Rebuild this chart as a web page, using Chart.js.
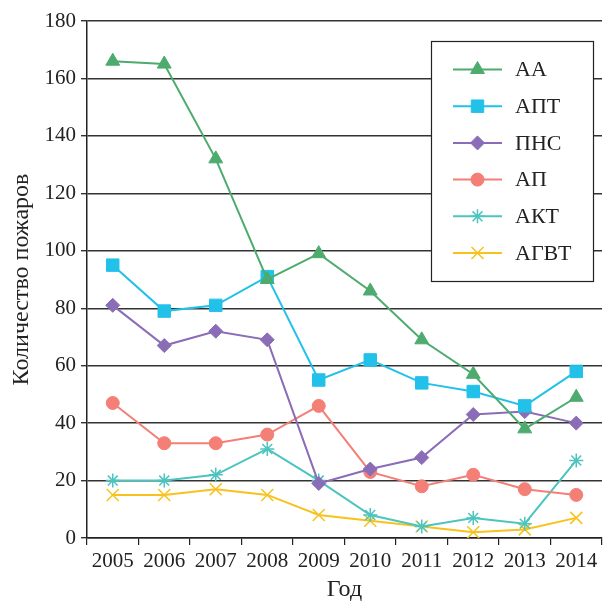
<!DOCTYPE html>
<html>
<head>
<meta charset="utf-8">
<script src="https://cdn.jsdelivr.net/npm/chart.js@4.4.1/dist/chart.umd.min.js"></script>
<style>
  html, body { margin: 0; padding: 0; background: #fff; overflow: hidden; }
  #wrap { width: 605px; height: 601px; overflow: hidden; }
</style>
</head>
<body>
<div id="wrap"><canvas id="chart" width="612" height="601"></canvas></div>
<script>
// years on the x axis
const years = ['2005', '2006', '2007', '2008', '2009', '2010', '2011', '2012', '2013', '2014'];

// fire counts per year
const seriesAA   = [166, 165, 132, 90, 99, 86, 69, 57, 38, 49];
const seriesAPT  = [95, 79, 81, 91, 55, 62, 54, 51, 46, 58];
const seriesPNS  = [81, 67, 72, 69, 19, 24, 28, 43, 44, 40];
const seriesAP   = [47, 33, 33, 36, 46, 23, 18, 22, 17, 15];
const seriesAKT  = [20, 20, 22, 31, 20, 8, 4, 7, 5, 27];
const seriesAGVT = [15, 15, 17, 15, 8, 6, 4, 2, 3, 7];

const yTicks = [0, 20, 40, 60, 80, 100, 120, 140, 160, 180];

const FONT = '"Liberation Serif", "Times New Roman", serif';

function makeSet(label, data, color, style, radius) {
    return {
        label: label,
        data: data,
        borderColor: color,
        backgroundColor: color,
        borderWidth: 2,
        pointStyle: style,
        pointRadius: radius,
        pointHoverRadius: radius,
        pointBorderWidth: (style === 'star' || style === 'crossRot') ? 1.5 : 1,
        tension: 0
    };
}

const datasets = [
    makeSet('АА', seriesAA, '#4dab6e', 'triangle', 8),
    makeSet('АПТ', seriesAPT, '#22c1e9', 'rect', 8.8),
    makeSet('ПНС', seriesPNS, '#8a6cb7', 'rectRot', 7),
    makeSet('АП', seriesAP, '#f47f76', 'circle', 6.5),
    makeSet('АКТ', seriesAKT, '#4cc4bf', 'star', 7),
    makeSet('АГВТ', seriesAGVT, '#f8c21d', 'crossRot', 8.5)
];

// legend in a framed box inside the plot, top right
const boxLegend = {
    id: 'boxLegend',
    afterDraw(chart) {
        const ctx = chart.ctx;
        const bx = 431, by = 41, bw = 162, bh = 240;
        ctx.save();
        ctx.fillStyle = '#fff';
        ctx.fillRect(bx, by, bw, bh);
        ctx.strokeStyle = '#222';
        ctx.lineWidth = 1.2;
        ctx.strokeRect(bx + 0.5, by + 0.5, bw, bh);

        chart.data.datasets.forEach(function(ds, i) {
            const y = 69.5 + i * 36.7;
            ctx.strokeStyle = ds.borderColor;
            ctx.lineWidth = 2;
            ctx.beginPath();
            ctx.moveTo(453, y);
            ctx.lineTo(502, y);
            ctx.stroke();

            ctx.fillStyle = ds.backgroundColor;
            ctx.lineWidth = ds.pointBorderWidth;
            if (Chart.helpers && Chart.helpers.drawPoint) {
                Chart.helpers.drawPoint(ctx, {
                    pointStyle: ds.pointStyle,
                    radius: ds.pointRadius,
                    rotation: 0,
                    borderWidth: ds.pointBorderWidth
                }, 477.5, y);
            }

            ctx.fillStyle = '#222';
            ctx.font = '22px ' + FONT;
            ctx.textBaseline = 'middle';
            ctx.textAlign = 'left';
            ctx.fillText(ds.label, 515, y + 1);
        });
        ctx.restore();
    }
};

const ctx = document.getElementById('chart').getContext('2d');
new Chart(ctx, {
    type: 'line',
    data: { labels: years, datasets: datasets },
    plugins: [boxLegend],
    options: {
        responsive: false,
        animation: false,
        layout: { padding: { top: 21, right: 3, left: 0, bottom: 0 } },
        plugins: {
            legend: { display: false },
            tooltip: { enabled: false }
        },
        scales: {
            x: {
                offset: true,
                grid: {
                    offset: true,
                    drawOnChartArea: false,
                    drawTicks: true,
                    tickLength: 7,
                    color: '#222',
                    lineWidth: 1.2
                },
                border: { color: '#222', width: 1.5 },
                ticks: {
                    color: '#222',
                    padding: 4,
                    maxRotation: 0,
                    autoSkip: false,
                    font: { family: FONT, size: 21 }
                },
                title: {
                    display: true,
                    text: 'Год',
                    color: '#222',
                    padding: { top: 0, bottom: 0 },
                    font: { family: FONT, size: 24, lineHeight: 0.9 }
                },
                afterFit(scale) { scale.height = 63; }
            },
            y: {
                min: 0,
                max: 180,
                afterBuildTicks(scale) {
                    scale.ticks = yTicks.map(v => ({ value: v }));
                },
                grid: {
                    color: '#333',
                    lineWidth: 1.4,
                    drawTicks: true,
                    tickLength: 6
                },
                border: { color: '#222', width: 1.5 },
                ticks: {
                    color: '#222',
                    padding: 5,
                    font: { family: FONT, size: 21 }
                },
                title: {
                    display: true,
                    text: 'Количество пожаров',
                    color: '#222',
                    padding: { top: 10, bottom: 10 },
                    font: { family: FONT, size: 24, lineHeight: 1 }
                },
                afterFit(scale) { scale.width = 87; }
            }
        }
    }
});
</script>
</body>
</html>
